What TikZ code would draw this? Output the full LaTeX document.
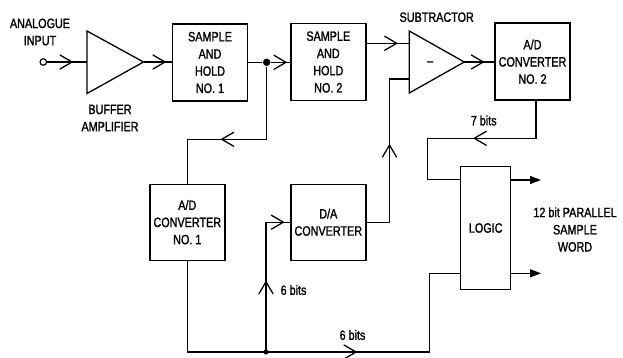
\documentclass[tikz,border=0pt]{standalone}
\usepackage{fontspec}
\setmainfont{Liberation Sans}[FakeStretch=0.8,FakeBold=1.4]
\usetikzlibrary{arrows.meta}
\newcommand\lblfont{\fontsize{13.5}{17.2}\selectfont}
\begin{document}
\begin{tikzpicture}[x=1pt,y=-1pt,line width=1.3pt,
  box/.style={draw,line width=1.4pt,minimum width=75pt,minimum height=77pt,inner sep=0pt,align=center,font=\lblfont},
  lbl/.style={align=center,font=\lblfont,inner sep=0pt},
  chev/.pic={\draw[line width=1.3pt,line cap=round,line join=miter] (-12,-7) -- (0,0) -- (-12,7);},
  outarrow/.style={-{Triangle[length=11pt,width=8pt]}}]
\useasboundingbox (0,0) rectangle (623,358);

% ---- nodes ----
\node[circle,draw,inner sep=0pt,minimum size=6.5pt,line width=1.2pt] (in) at (43.3,62) {};
\coordinate (bufA) at (87,31);
\coordinate (bufB) at (87,93.5);
\coordinate (bufT) at (143.5,62);
\coordinate (bufL) at (87,62);
\draw (bufA) -- (bufT) -- (bufB) -- cycle;

\node[box] (sh1) at (210,62.5) {SAMPLE\\AND\\HOLD\\NO. 1};
\node[circle,fill,inner sep=0pt,minimum size=7.5pt] (dot) at (266.7,62.3) {};
\node[box] (sh2) at (328.3,62) {SAMPLE\\AND\\HOLD\\NO. 2};

\coordinate (subA) at (409.3,31);
\coordinate (subB) at (409.3,93);
\coordinate (subT) at (464.3,62);
\coordinate (subI1) at (409.3,43.3);
\coordinate (subI2) at (409.3,79);
\draw (subA) -- (subT) -- (subB) -- cycle;
\node[lbl] (minus) at (430,63.3) {\textendash};

\node[box] (ad2) at (532.5,61.7) {A/D\\CONVERTER\\NO. 2};
\node[box,minimum height=76pt] (ad1) at (187.3,222.2) {A/D\\CONVERTER\\NO. 1};
\node[box,minimum height=76pt] (da) at (328.3,222.2) {D/A\\CONVERTER};
\node[box,minimum width=50pt,minimum height=122.6pt] (logic) at (485.7,228) {LOGIC};

% ---- labels ----
\node[lbl] (tin) at (40,32) {ANALOGUE\\INPUT};
\node[lbl] (tbuf) at (110,118) {BUFFER\\AMPLIFIER};
\node[lbl] (tsub) at (436.7,17.2) {SUBTRACTOR};
\node[lbl] (t7) at (483.7,120.5) {7 bits};
\node[lbl,anchor=west] (t6a) at (280,290) {6 bits};
\node[lbl] (t6b) at (352.5,335) {6 bits};
\node[lbl] (tout) at (575,229.5) {12 bit PARALLEL\\SAMPLE\\WORD};

% ---- connectors ----
\draw (in.east) -- (bufL);
\pic at (72,62) {chev};
\draw (bufT) -- (bufT -| sh1.west);
\pic at (165,62) {chev};
\draw (sh1.east |- dot) -- (dot) -- (dot -| sh2.west);
\pic at (286,62.3) {chev};
\draw (sh2.east |- subI1) -- (subI1);
\pic at (396.7,43.3) {chev};
\draw (subT) -- (subT -| ad2.west);
\pic at (483.3,62) {chev};

% feedback to A/D 1
\coordinate (fb) at (187.3,139.3);
\draw (dot) |- (fb) -- (ad1.north);
\pic[rotate=180] at (221.7,139.3) {chev};

% bottom bus
\coordinate (b1) at (187.3,352);
\coordinate (jn) at (266,352);
\coordinate (b2) at (429.3,352);
\coordinate (lg2) at (460.7,273.3);
\draw (ad1.south) -- (b1) -- (b2) |- (lg2);
\pic at (356,352) {chev};
\node[circle,fill,inner sep=0pt,minimum size=5pt] (jdot) at (jn) {};

% to D/A
\draw (jn) |- (da.west);
\pic[rotate=90] at (266,281.7) {chev};
\pic at (283.3,222.2) {chev};

% D/A to subtractor
\coordinate (dac) at (389.5,222.2);
\draw (da.east) -- (dac) |- (subI2);
\pic[rotate=90] at (389.5,145) {chev};

% A/D 2 to logic
\coordinate (a2o) at (536,100);
\coordinate (a2c) at (427.3,138.3);
\coordinate (lg1) at (460.7,179.3);
\draw (a2o) |- (a2c) |- (lg1);
\pic[rotate=180] at (474.3,138.3) {chev};

% logic outputs
\coordinate (o1) at (541,180);
\coordinate (o2) at (541,273.3);
\draw[outarrow] (logic.east |- o1) -- (o1);
\draw[outarrow] (logic.east |- o2) -- (o2);
\end{tikzpicture}
\end{document}
